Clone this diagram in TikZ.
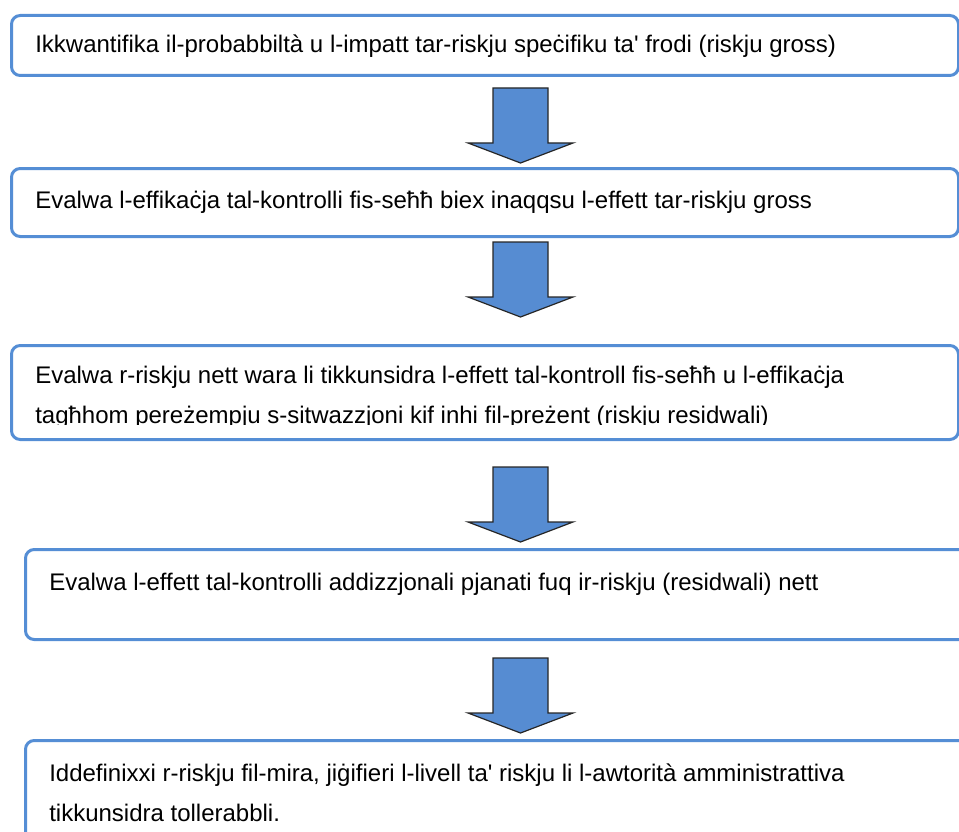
\documentclass[tikz,border=0pt]{standalone}
\usepackage{fontspec}
\newfontfamily\boxfont{Liberation Sans}
\usepackage{tikz}
\definecolor{boxblue}{RGB}{85,142,213}
\definecolor{arrowblue}{RGB}{86,140,210}

\begin{document}
\begin{tikzpicture}[x=0.75pt, y=-0.75pt,
    stepbox/.style={draw=boxblue, line width=2.25pt, rounded corners=6.5pt, fill=white, inner sep=0pt, anchor=north west},
    steptext/.style={font=\boxfont\fontsize{18}{29.5}\selectfont, align=left, inner sep=0pt, anchor=base west},
    flowarrow/.style={fill=arrowblue, draw=black!85, line width=0.9pt, line join=miter}]
    \useasboundingbox (0,0) rectangle (959,831);

    % Draw boxes
    \node[stepbox, minimum width=947*0.75pt, minimum height=60*0.75pt] (b1) at (10,14) {};
    \node[stepbox, minimum width=947*0.75pt, minimum height=68*0.75pt] (b2) at (10,167) {};
    \node[stepbox, minimum width=947*0.75pt, minimum height=94*0.75pt] (b3) at (10,344) {};
    \node[stepbox, minimum width=960*0.75pt, minimum height=90*0.75pt] (b4) at (24,548) {};
    \node[stepbox, minimum width=960*0.75pt, minimum height=130*0.75pt] (b5) at (24,739) {};

    % Draw texts (base anchor sits on the last line)
    \node[steptext] (t1) at (35,53) {Ikkwantifika il-probabbiltà u l-impatt tar-riskju speċifiku ta' frodi (riskju gross)};
    \node[steptext] (t2) at (35,208) {Evalwa l-effikaċja tal-kontrolli fis-seħħ biex inaqqsu l-effett tar-riskju gross};
    \begin{scope}
        \clip (b3.north west) rectangle (959,424);
        \node[steptext] (t3) at (35,423) {Evalwa r-riskju nett wara li tikkunsidra l-effett tal-kontroll fis-seħħ u l-effikaċja\\tagħhom pereżempju s-sitwazzjoni kif inhi fil-preżent (riskju residwali)};
    \end{scope}
    \node[steptext] (t4) at (49,590) {Evalwa l-effett tal-kontrolli addizzjonali pjanati fuq ir-riskju (residwali) nett};
    \node[steptext] (t5) at (49,821) {Iddefinixxi r-riskju fil-mira, jiġifieri l-livell ta' riskju li l-awtorità amministrattiva\\tikkunsidra tollerabbli.};

    % Draw arrows
    \coordinate (a1) at (520.5,88);
    \coordinate (a2) at (520.5,242);
    \coordinate (a3) at (520.5,467);
    \coordinate (a4) at (520.5,658);
    \foreach \a in {a1,a2,a3,a4}
        \draw[flowarrow, shift={(\a)}] (-27.5,0) -- (27.5,0) -- (27.5,55) -- (52.5,55) -- (0,75) -- (-52.5,55) -- (-27.5,55) -- cycle;
\end{tikzpicture}
\end{document}
